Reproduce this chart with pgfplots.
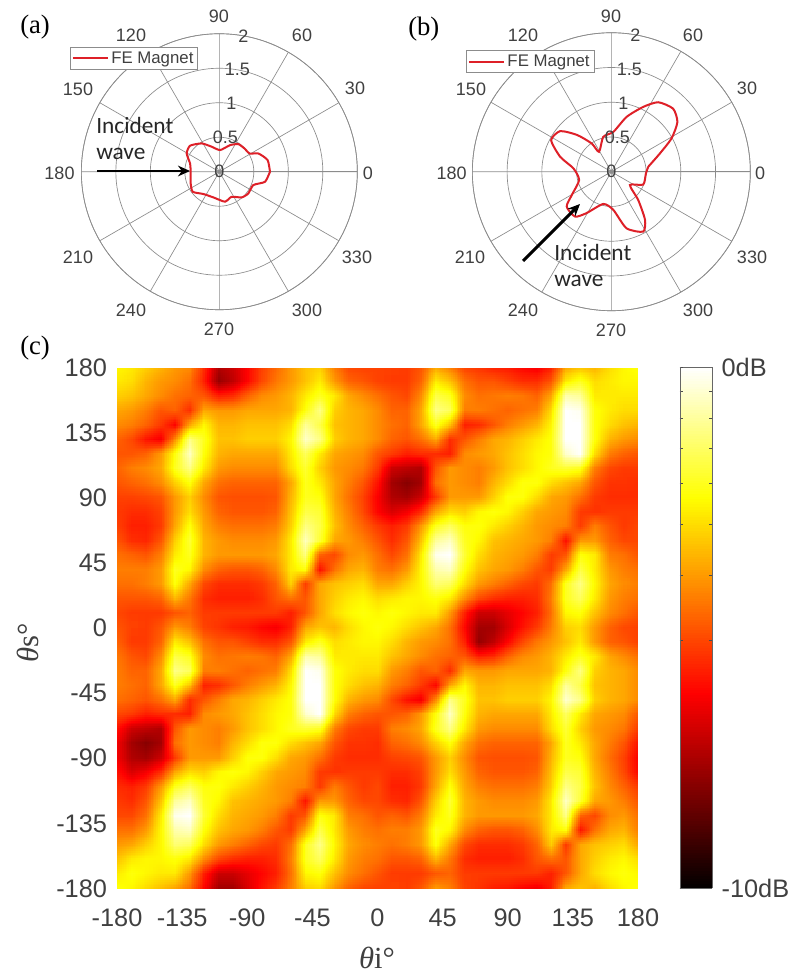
\documentclass[border=0pt]{standalone}
\usepackage{fontspec}
\setmainfont{Liberation Sans}
\newfontfamily\serf{Liberation Serif}
\newfontfamily\calib{Carlito}
\usepackage{pgfplots}
\pgfplotsset{compat=1.18}
\usepgfplotslibrary{polar,patchplots}
\usetikzlibrary{arrows.meta}
\definecolor{gridg}{RGB}{140,140,140}
\definecolor{txt}{RGB}{64,64,64}
\definecolor{curve}{RGB}{222,32,40}
\tikzset{rlab/.style={text=txt,font=\fontsize{13.5}{15}\selectfont,inner sep=0pt},
 anno/.style={anchor=west,inner sep=0pt,text=black!85,font=\calib\fontsize{17.5}{19}\selectfont},
 panel/.style={anchor=west,inner sep=0pt,font=\serf\fontsize{20}{22}\selectfont}}
\pgfplotsset{
 polarstyle/.style={
  scale only axis, clip=false, xmin=0, xmax=360, ymin=0, ymax=2,
  xtick={0,30,...,330}, xticklabels={},
  ytick={0,0.5,1,1.5,2}, yticklabels={},
  grid=major, major grid style={gridg,line width=0.5pt},
  axis line style={gridg,line width=0.5pt},
  tick style={draw=none},
  legend image code/.code={\draw[##1] (0pt,0pt)--(26pt,0pt);},
  legend style={font=\fontsize{12.6}{14}\selectfont,text=txt,draw=gridg,fill=white,
    line width=0.5pt,inner sep=1.2pt,anchor=north west,cells={anchor=west}},
 },
}
\begin{document}
\begin{tikzpicture}
\begin{scope}[x=0.75pt,y=-0.75pt]
\path[use as bounding box] (0,0) rectangle (793,974);
\end{scope}
% panel (a)
\begin{polaraxis}[polarstyle, at={(164.5pt,-128.8pt)}, anchor=center, width=207pt, height=207pt,
  legend style={at={(axis description cs:-0.041,0.952)}}]
\addplot[curve,line width=1.5pt,smooth,tension=0.35] coordinates {
(0,.734)(13.6,.72)(25,.625)(31,.513)(43,.496)(55.5,.486)(68,.416)(88,.314)(107,.379)(122,.484)(138.4,.568)(150.7,.543)(164,.442)(180,.415)(202,.448)(217,.483)(234,.398)(257,.382)(280.7,.442)(296,.404)(311,.493)(323,.525)(338.6,.529)(347.6,.678)(360,.734)};
\addlegendentry{FE Magnet}
\node[rlab] at (axis cs:80,0) {0};
\node[rlab] at (axis cs:80,0.5) {0.5};
\node[rlab] at (axis cs:80,1) {1};
\node[rlab] at (axis cs:80,1.5) {1.5};
\node[rlab] at (axis cs:80,2) {2};
\end{polaraxis}
% panel (b)
\begin{polaraxis}[polarstyle, at={(458.5pt,-128.8pt)}, anchor=center, width=208.5pt, height=208.5pt,
  legend style={at={(axis description cs:-0.022,0.937)}}]
\addplot[curve,line width=1.5pt,smooth,tension=0.4] coordinates {
(7.7,.536)(20.6,.746)(29,.99)(37,1.19)(45.6,1.27)(56,1.206)(63.8,1.04)(74.4,.82)(87,.575)(103,.515)(121.7,.337)(124.8,.495)(133,.724)(141.6,.94)(152.3,.978)(163.7,.767)(175,.547)(194.5,.479)(210.5,.66)(218,.815)(231,.83)(239,.695)(256,.478)(273,.55)(285,.842)(298,.976)(305,.845)(313.6,.56)(324.5,.329)(338,.494)(357,.498)(367.7,.536)};
\addlegendentry{FE Magnet}
\node[rlab] at (axis cs:80,0) {0};
\node[rlab] at (axis cs:80,0.5) {0.5};
\node[rlab] at (axis cs:80,1) {1};
\node[rlab] at (axis cs:80,1.5) {1.5};
\node[rlab] at (axis cs:80,2) {2};
\end{polaraxis}
% panel (c)
\begin{axis}[scale only axis, at={(87.75pt,-275.6pt)}, anchor=north west,
  width=390.75pt, height=390.75pt, view={0}{90},
  xmin=-180,xmax=180,ymin=-180,ymax=180,
  xtick={-180,-135,...,180}, ytick={-180,-135,...,180},
  xticklabels={-180,-135,-90,-45,0,45,90,135,180},
  yticklabels={-180,-135,-90,-45,0,45,90,135,180},
  tick style={draw=none}, axis line style={draw=none},
  ticklabel style={font=\fontsize{19}{21}\selectfont,text=txt},
  xticklabel style={yshift=-12pt}, yticklabel style={xshift=-4pt},
  colormap={myhot}{rgb255(0pt)=(0,0,0); rgb255(3pt)=(255,0,0); rgb255(6pt)=(255,255,0); rgb255(8pt)=(255,255,255)},
  point meta min=0, point meta max=100,
  colorbar sampled,
  colorbar style={at={(1.0806,1)},anchor=north west,width=24pt,height=390.75pt,samples=200,
    ytick={0,47.7,60.2,70,77.8,84.5,90.3,95.4,100},
    yticklabels={-10dB,,,,,,,,0dB}, yticklabel pos=right,
    tick align=inside, major tick length=2pt,
    tick style={draw=black!70,line width=0.4pt},
    axis line style={draw=black!60,line width=0.5pt},
    yticklabel style={font=\fontsize{19}{21}\selectfont,text=txt,inner sep=2pt,xshift=5pt},
  },
]
\addplot3[surf,shader=interp,patch type=bilinear,mesh/cols=37] table[row sep=\\,header=false,
  x expr={(\coordindex-37*floor((\coordindex+0.5)/37))*10-180}, y expr={180-10*floor((\coordindex+0.5)/37)}, z index=0] {
74\\72\\68\\64\\60\\58\\44\\26\\30\\38\\47\\53\\60\\66\\68\\56\\48\\47\\47\\47\\46\\50\\62\\56\\47\\45\\42\\41\\38\\36\\42\\62\\66\\64\\70\\74\\76\\
72\\70\\64\\60\\58\\54\\42\\22\\28\\38\\48\\55\\60\\66\\72\\60\\52\\50\\47\\46\\46\\52\\72\\66\\54\\50\\50\\47\\44\\44\\50\\72\\78\\70\\72\\74\\74\\
68\\66\\62\\58\\54\\52\\50\\42\\44\\52\\58\\60\\64\\72\\78\\72\\62\\58\\54\\50\\48\\58\\82\\78\\58\\54\\55\\56\\55\\52\\62\\92\\90\\72\\72\\72\\72\\
62\\60\\56\\50\\52\\44\\62\\60\\60\\62\\62\\62\\64\\76\\88\\68\\64\\62\\58\\52\\52\\62\\88\\84\\56\\56\\54\\52\\54\\56\\70\\100\\98\\76\\72\\70\\70\\
58\\56\\52\\46\\38\\62\\74\\64\\64\\66\\66\\66\\70\\90\\82\\66\\64\\62\\58\\54\\52\\62\\78\\66\\42\\44\\50\\56\\60\\64\\74\\100\\100\\76\\70\\66\\64\\
52\\48\\40\\36\\58\\88\\78\\66\\66\\68\\68\\68\\74\\95\\88\\68\\64\\62\\58\\52\\50\\54\\62\\44\\50\\56\\62\\64\\68\\72\\76\\100\\100\\76\\64\\60\\58\\
50\\50\\52\\60\\76\\94\\76\\64\\62\\62\\62\\62\\72\\84\\72\\62\\60\\58\\50\\46\\42\\44\\44\\42\\58\\60\\62\\66\\70\\74\\76\\95\\100\\70\\56\\52\\50\\
52\\56\\58\\62\\78\\88\\72\\60\\58\\58\\58\\58\\70\\80\\68\\60\\58\\55\\46\\30\\28\\26\\50\\60\\58\\56\\60\\66\\70\\74\\78\\80\\78\\56\\48\\46\\46\\
50\\52\\54\\58\\68\\76\\62\\54\\52\\52\\52\\52\\62\\78\\72\\62\\56\\50\\40\\24\\20\\24\\54\\60\\58\\56\\64\\70\\76\\76\\70\\66\\62\\50\\45\\45\\44\\
47\\47\\48\\50\\60\\68\\58\\50\\49\\49\\49\\50\\64\\78\\76\\62\\54\\47\\37\\26\\24\\30\\46\\60\\60\\60\\68\\76\\76\\70\\62\\60\\54\\46\\44\\44\\44\\
46\\44\\44\\47\\60\\70\\60\\52\\50\\50\\50\\52\\66\\82\\80\\64\\56\\48\\38\\32\\36\\44\\62\\70\\68\\74\\76\\74\\68\\62\\60\\58\\46\\45\\46\\46\\46\\
47\\42\\42\\46\\62\\76\\62\\56\\54\\54\\54\\56\\68\\88\\82\\66\\58\\52\\46\\42\\46\\60\\78\\84\\76\\76\\72\\68\\64\\60\\58\\56\\46\\56\\50\\46\\48\\
50\\44\\43\\50\\68\\80\\64\\60\\58\\58\\58\\60\\72\\94\\80\\62\\60\\56\\50\\44\\50\\66\\90\\94\\78\\74\\66\\64\\62\\60\\56\\40\\60\\60\\52\\48\\48\\
54\\52\\50\\56\\72\\78\\64\\60\\60\\60\\60\\62\\72\\88\\52\\48\\58\\60\\54\\48\\54\\72\\98\\100\\80\\70\\64\\62\\60\\56\\46\\50\\76\\72\\56\\54\\50\\
56\\56\\56\\60\\78\\74\\58\\52\\50\\50\\52\\58\\72\\76\\40\\54\\62\\64\\56\\54\\60\\74\\92\\94\\76\\66\\62\\60\\56\\50\\46\\62\\82\\72\\60\\56\\54\\
54\\54\\56\\60\\76\\62\\48\\44\\44\\44\\46\\52\\68\\46\\62\\66\\68\\70\\62\\62\\68\\74\\86\\84\\70\\60\\56\\52\\48\\46\\54\\78\\88\\74\\62\\58\\56\\
50\\50\\50\\52\\64\\55\\44\\42\\42\\42\\44\\50\\54\\50\\62\\68\\72\\74\\70\\72\\74\\74\\76\\72\\58\\48\\44\\42\\42\\44\\56\\78\\84\\72\\60\\56\\54\\
48\\46\\46\\46\\50\\52\\46\\46\\46\\46\\46\\46\\42\\50\\62\\70\\74\\76\\74\\76\\74\\72\\72\\60\\42\\30\\30\\34\\38\\42\\54\\74\\76\\66\\58\\54\\50\\
50\\47\\46\\50\\60\\56\\47\\45\\42\\41\\38\\36\\42\\62\\66\\64\\70\\74\\76\\74\\70\\66\\62\\54\\38\\24\\24\\32\\40\\46\\56\\68\\70\\60\\52\\48\\47\\
52\\46\\46\\52\\72\\66\\54\\50\\50\\47\\44\\44\\50\\72\\78\\70\\72\\74\\74\\70\\64\\60\\58\\54\\42\\22\\28\\38\\48\\55\\60\\66\\72\\60\\52\\50\\47\\
55\\50\\48\\58\\82\\78\\58\\54\\55\\56\\55\\52\\62\\92\\90\\72\\72\\72\\72\\66\\62\\58\\54\\52\\50\\42\\44\\52\\58\\60\\64\\72\\78\\72\\62\\58\\54\\
56\\52\\52\\62\\88\\84\\56\\56\\54\\52\\54\\56\\70\\100\\98\\76\\72\\70\\70\\60\\56\\50\\52\\44\\62\\60\\60\\62\\62\\62\\64\\76\\88\\68\\64\\62\\58\\
56\\54\\52\\62\\78\\66\\42\\44\\50\\56\\60\\64\\74\\100\\100\\76\\70\\66\\64\\56\\52\\46\\38\\62\\74\\64\\64\\66\\66\\66\\70\\90\\82\\66\\64\\62\\58\\
54\\52\\50\\54\\62\\44\\50\\56\\62\\64\\68\\72\\76\\100\\100\\76\\64\\60\\58\\48\\40\\36\\58\\88\\78\\66\\66\\68\\68\\68\\74\\95\\88\\68\\64\\62\\58\\
48\\46\\42\\44\\44\\42\\58\\60\\62\\66\\70\\74\\76\\95\\100\\70\\56\\52\\50\\50\\52\\60\\76\\94\\76\\64\\62\\62\\62\\62\\72\\84\\72\\62\\60\\58\\50\\
40\\30\\28\\26\\50\\60\\58\\56\\60\\66\\70\\74\\78\\80\\78\\56\\48\\46\\46\\56\\58\\62\\78\\88\\72\\60\\58\\58\\58\\58\\70\\80\\68\\60\\58\\55\\46\\
36\\24\\20\\24\\54\\60\\58\\56\\64\\70\\76\\76\\70\\66\\62\\50\\45\\45\\44\\52\\54\\58\\68\\76\\62\\54\\52\\52\\52\\52\\62\\78\\72\\62\\56\\50\\40\\
36\\26\\24\\30\\46\\60\\60\\60\\68\\76\\76\\70\\62\\60\\54\\46\\44\\44\\44\\47\\48\\50\\60\\68\\58\\50\\49\\49\\49\\50\\64\\78\\76\\62\\54\\47\\37\\
40\\32\\36\\44\\62\\70\\68\\74\\76\\74\\68\\62\\60\\58\\46\\45\\46\\46\\46\\44\\44\\47\\60\\70\\60\\52\\50\\50\\50\\52\\66\\82\\80\\64\\56\\48\\38\\
44\\42\\46\\60\\78\\84\\76\\76\\72\\68\\64\\60\\58\\56\\46\\56\\50\\46\\48\\42\\42\\46\\62\\76\\62\\56\\54\\54\\54\\56\\68\\88\\82\\66\\58\\52\\46\\
46\\44\\50\\66\\90\\94\\78\\74\\66\\64\\62\\60\\56\\40\\60\\60\\52\\48\\48\\44\\43\\50\\68\\80\\64\\60\\58\\58\\58\\60\\72\\94\\80\\62\\60\\56\\50\\
48\\48\\54\\72\\98\\100\\80\\70\\64\\62\\60\\56\\46\\50\\76\\72\\56\\54\\50\\52\\50\\56\\72\\78\\64\\60\\60\\60\\60\\62\\72\\88\\52\\48\\58\\60\\54\\
54\\54\\60\\74\\92\\94\\76\\66\\62\\60\\56\\50\\46\\62\\82\\72\\60\\56\\54\\56\\56\\60\\78\\74\\58\\52\\50\\50\\52\\58\\72\\76\\40\\54\\62\\64\\56\\
60\\62\\68\\74\\86\\84\\70\\60\\56\\52\\48\\46\\54\\78\\88\\74\\62\\58\\56\\54\\56\\60\\76\\62\\48\\44\\44\\44\\46\\52\\68\\46\\62\\66\\68\\70\\62\\
66\\72\\74\\74\\76\\72\\58\\48\\44\\42\\42\\44\\56\\78\\84\\72\\60\\56\\54\\50\\50\\52\\64\\55\\44\\42\\42\\42\\44\\50\\54\\50\\62\\68\\72\\74\\70\\
72\\76\\74\\72\\72\\60\\42\\30\\30\\34\\38\\42\\54\\74\\76\\66\\58\\54\\50\\46\\46\\46\\50\\52\\46\\46\\46\\46\\46\\46\\42\\50\\62\\70\\74\\76\\74\\
76\\74\\70\\66\\62\\54\\38\\24\\24\\32\\40\\46\\56\\68\\70\\60\\52\\48\\47\\47\\46\\50\\60\\56\\47\\45\\42\\41\\38\\36\\42\\62\\66\\64\\70\\74\\76\\
};
\end{axis}
% annotations
\begin{scope}[x=0.75pt,y=-0.75pt]
\foreach \xx/\yy/\t in {368/173/0,355/88/30,302/35/60,219/16/90,131/35/120,78/89/150,59.5/173/180,78/257/210,131/310/240,219/329/270,307/310/300,357/257/330,
  760/173/0,747/88/30,693/35/60,611/16/90,523/35/120,471/89/150,451.7/173/180,470/257/210,523/310/240,611/330/270,698/310/300,752/257/330}
  \node[rlab] at (\xx,\yy) {\t};
\node[panel] at (20,27) {(a)};
\node[panel] at (408,29) {(b)};
\node[panel] at (20,348) {(c)};
\node[anno] at (96,125) {Incident};
\node[anno] at (96,154) {wave};
\node[anno] at (554,252) {Incident};
\node[anno] at (554,281) {wave};
\draw[-{Stealth[length=9pt,width=8pt]},line width=2.2pt] (97,171)--(190,171);
\draw[-{Stealth[length=9pt,width=8pt]},line width=2.2pt] (523,261)--(580,204);
\node[text=txt,font=\serf\fontsize{23}{25}\selectfont] at (377,958) {\textit{θ}i°};
\node[text=txt,rotate=90,font=\serf\fontsize{23}{25}\selectfont] at (28,643) {\textit{θ}s°};
\end{scope}
\end{tikzpicture}
\end{document}
